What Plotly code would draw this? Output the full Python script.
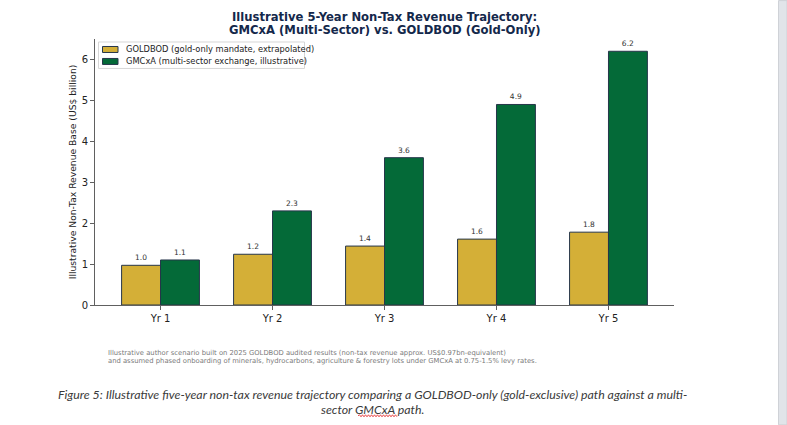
import plotly.graph_objects as go

categories = ["Yr 1", "Yr 2", "Yr 3", "Yr 4", "Yr 5"]
goldbod = [0.97, 1.24, 1.44, 1.61, 1.78]
gmcxa = [1.1, 2.3, 3.6, 4.9, 6.2]
y_ticks = [0, 1, 2, 3, 4, 5, 6]
series_names = ["GOLDBOD (gold-only mandate, extrapolated)",
                "GMCxA (multi-sector exchange, illustrative)"]

W, H = 787, 425
L, R, T, B = 95, 674, 38.5, 305

def px_x(x):
    return (x - L) / (R - L)

def px_y(y):
    return (B - y) / (B - T)

GOLD = "#D4AF37"
GREEN = "#046A38"
EDGE = "#26364a"
FONT = "DejaVu Sans"

fig = go.Figure()
for vals, name, col in [(goldbod, series_names[0], GOLD), (gmcxa, series_names[1], GREEN)]:
    fig.add_trace(go.Bar(
        x=categories, y=vals, name=name,
        marker=dict(color=col, line=dict(color=EDGE, width=1)),
        texttemplate="%{y:.1f}", textposition="outside",
        textfont=dict(size=7.5, color="#333333", family=FONT),
        cliponaxis=False, showlegend=False, hoverinfo="skip",
    ))

fig.update_layout(
    width=W, height=H,
    margin=dict(l=L, r=W - R, t=T, b=H - B, pad=0),
    paper_bgcolor="white", plot_bgcolor="white",
    barmode="group", bargap=0.305, bargroupgap=0,
    font=dict(family=FONT, color="#222222"),
    uniformtext=dict(mode=False),
)
fig.update_xaxes(
    range=[-0.585, 4.585], showline=True, linecolor="#606060", linewidth=1,
    ticks="outside", ticklen=4, tickcolor="#606060", showgrid=False,
    tickfont=dict(size=10, color="#222222"), zeroline=False,
)
fig.update_yaxes(
    range=[0, 6.5], tickvals=y_ticks, showline=True, linecolor="#606060", linewidth=1,
    ticks="outside", ticklen=4, tickcolor="#606060", showgrid=False, zeroline=False,
    tickfont=dict(size=10, color="#222222"),
    title=dict(text="Illustrative Non-Tax Revenue Base (US$ billion)",
               font=dict(size=9.2, color="#222222"), standoff=3),
)

# title lines
for txt, yc in [("<b>Illustrative 5-Year Non-Tax Revenue Trajectory:</b>", 16.5),
                ("<b>GMCxA (Multi-Sector) vs. GOLDBOD (Gold-Only)</b>", 29.5)]:
    fig.add_annotation(text=txt, xref="paper", yref="paper", x=0.5, y=px_y(yc),
                       xanchor="center", yanchor="middle", showarrow=False,
                       font=dict(size=11.6, color="#14284b", family=FONT))

# legend (drawn as a key box)
fig.add_shape(type="rect", xref="paper", yref="paper",
              x0=px_x(98.5), x1=px_x(304.5), y0=px_y(41.5), y1=px_y(68),
              fillcolor="rgba(255,255,255,0.85)", line=dict(color="#d6d6d6", width=1), layer="above")
for i, (name, col) in enumerate(zip(series_names, [GOLD, GREEN])):
    yc = 49 + 12 * i
    fig.add_shape(type="rect", xref="paper", yref="paper",
                  x0=px_x(102.5), x1=px_x(118), y0=px_y(yc - 3), y1=px_y(yc + 3),
                  fillcolor=col, line=dict(color=EDGE, width=1), layer="above")
    fig.add_annotation(text=name, xref="paper", yref="paper", x=px_x(123.5), y=px_y(yc),
                       xanchor="left", yanchor="middle", showarrow=False,
                       font=dict(size=8.3, color="#222222", family=FONT))

# footnote
for txt, yc in [("Illustrative author scenario built on 2025 GOLDBOD audited results (non-tax revenue approx. US$0.97bn-equivalent)", 353.5),
                ("and assumed phased onboarding of minerals, hydrocarbons, agriculture &amp; forestry lots under GMCxA at 0.75-1.5% levy rates.", 361.5)]:
    fig.add_annotation(text=txt, xref="paper", yref="paper", x=px_x(106), y=px_y(yc),
                       xanchor="left", yanchor="middle", align="left", showarrow=False,
                       font=dict(size=6.8, color="#7a7a7a", family=FONT))

# figure caption
for txt, yc in [("<i>Figure 5: Illustrative five-year non-tax revenue trajectory comparing a GOLDBOD-only (gold-exclusive) path against a multi-</i>", 395),
                ("<i>sector GMCxA path.</i>", 410)]:
    fig.add_annotation(text=txt, xref="paper", yref="paper", x=px_x(372.5), y=px_y(yc),
                       xanchor="center", yanchor="middle", showarrow=False,
                       font=dict(size=12.35, color="#3a3a3a", family="Lato"))

# spell-check squiggle under "GMCxA" in the caption
zig = "M {} {}".format(px_x(358), px_y(416))
xx, up = 358, True
while xx < 396:
    xx += 1.5
    zig += " L {} {}".format(px_x(xx), px_y(415 if up else 417))
    up = not up
fig.add_shape(type="path", xref="paper", yref="paper", path=zig,
              line=dict(color="#e02020", width=0.8), layer="above")

# scrollbar strip at right edge of screenshot
fig.add_shape(type="rect", xref="paper", yref="paper",
              x0=px_x(778.5), x1=px_x(787), y0=px_y(0), y1=px_y(425),
              fillcolor="#e1e4e9", line=dict(color="#cfd2d7", width=1), layer="above")

fig.write_html("out.html", config={"displayModeBar": False},
               post_script="document.body.style.margin='0';document.body.style.overflow='hidden';")
